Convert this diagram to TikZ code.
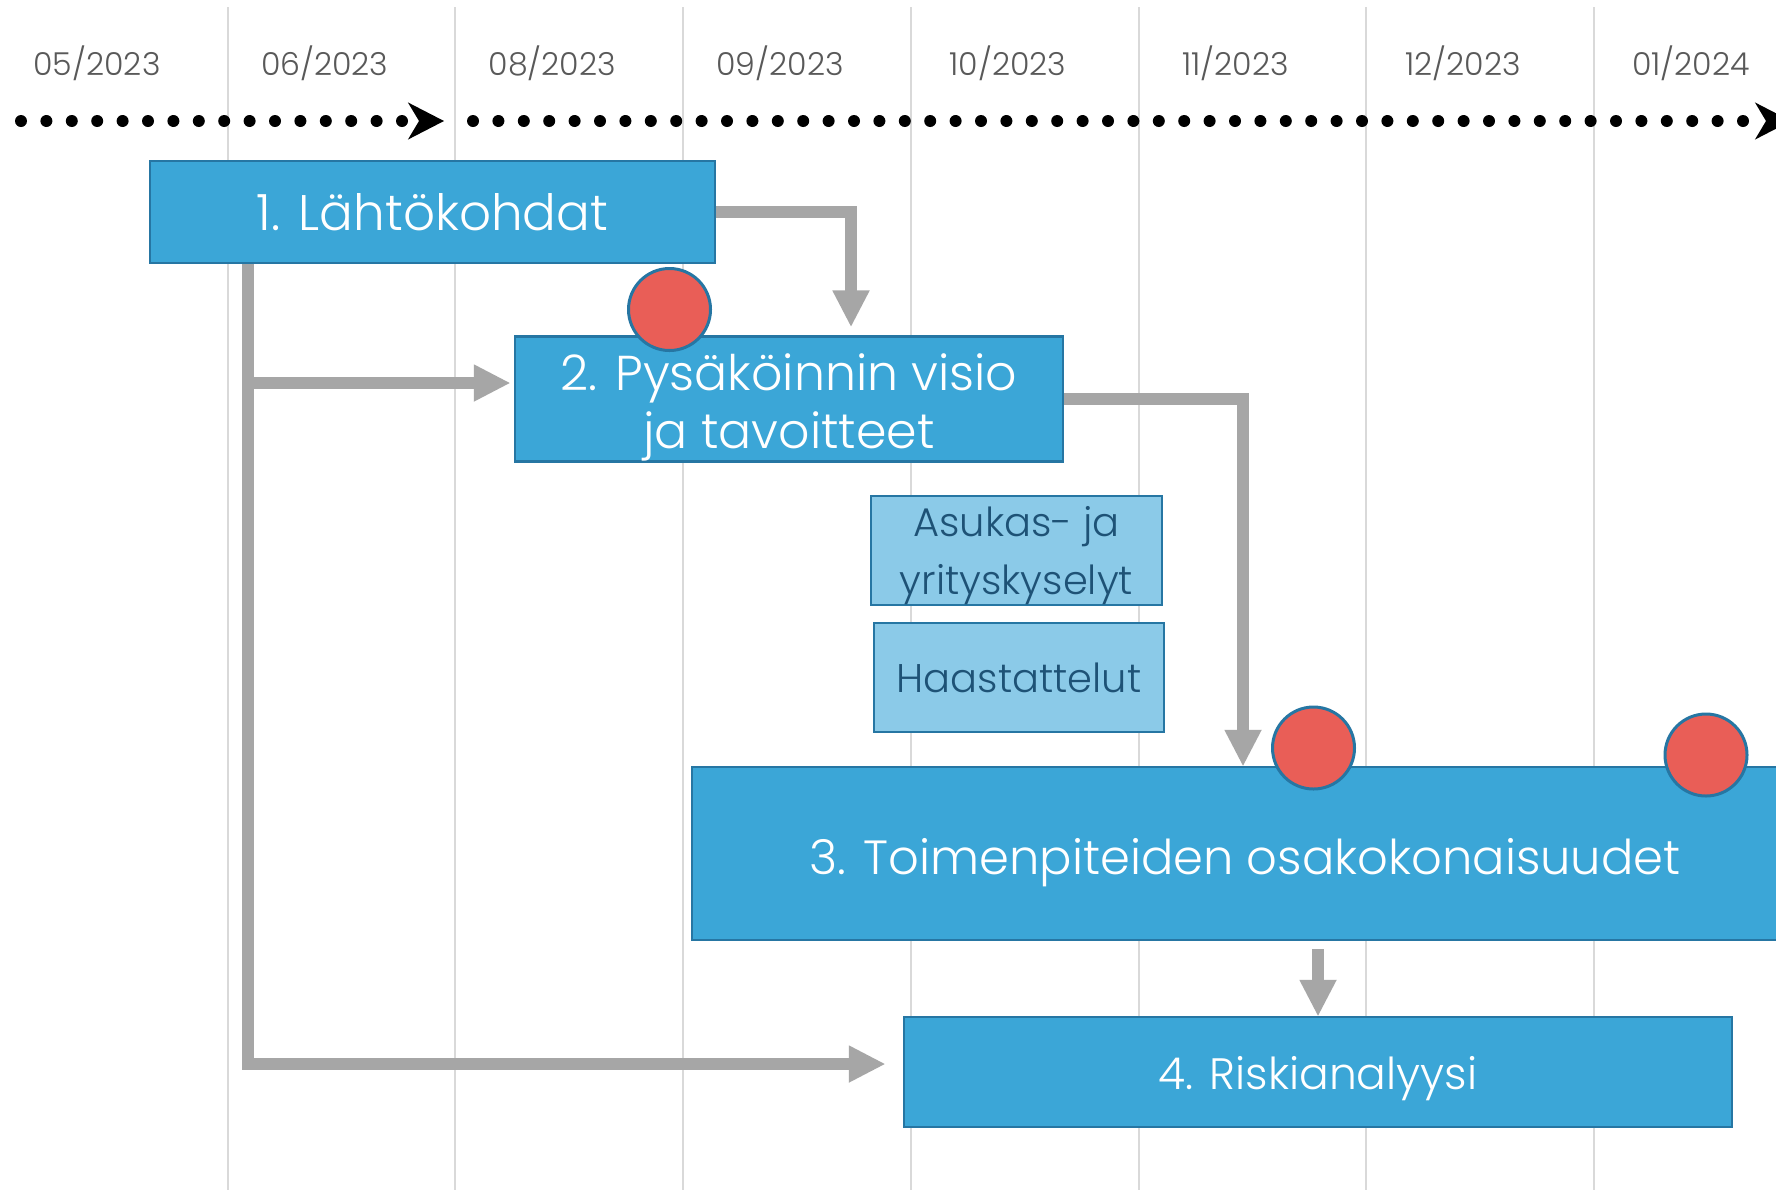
\documentclass[tikz,border=0pt]{standalone}
\usepackage{fontspec}
\setmainfont{Poppins Light}
\usetikzlibrary{arrows.meta, positioning, calc}
\definecolor{taskblue}{RGB}{59,166,215}
\definecolor{taskedge}{RGB}{38,118,163}
\definecolor{subblue}{RGB}{139,202,232}
\definecolor{subtext}{RGB}{30,82,118}
\definecolor{milered}{RGB}{233,94,87}
\definecolor{linkgray}{RGB}{166,166,166}
\definecolor{gridgray}{RGB}{217,217,217}
\definecolor{labelgray}{RGB}{89,89,89}
\newcommand{\taskstrut}[1]{\rule{0pt}{#1}}

\begin{document}
\begin{tikzpicture}[
        x=0.5pt, y=-0.5pt,
        task/.style={draw=taskedge, fill=taskblue, line width=1.25pt, text=white, align=center, inner sep=0pt, font=\fontsize{25}{29}\selectfont},
        subtask/.style={task, fill=subblue, text=subtext, font=\fontsize{20}{29}\selectfont},
        milestone/.style={circle, draw=taskedge, fill=milered, line width=1.5pt, minimum size=41pt, inner sep=0pt},
        link/.style={draw=linkgray, line width=6pt, -{Triangle[width=18.5pt, length=18pt, line width=1pt]}},
        timeline/.style={line width=6pt, line cap=round, dash pattern=on 0pt off 12.7pt, -{Stealth[length=18pt, width=18.5pt, inset=5.5pt, line width=1pt]}},
        month/.style={text=labelgray, font=\fontsize{15.8}{18}\selectfont}
    ]
        \clip (0,0) rectangle (1776,1190);
        \fill[white] (0,0) rectangle (1776,1190);

        % Month grid
        \foreach \i in {1,...,7}
            \draw[gridgray, line width=1pt] (\i*227.7,7) -- (\i*227.7,1190);

        % Month labels
        \foreach \m [count=\i from 0] in {05/2023, 06/2023, 08/2023, 09/2023, 10/2023, 11/2023, 12/2023, 01/2024}
            \node[month] (m\i) at (97+\i*227.7, 63) {\m};

        % Timeline
        \coordinate (t0) at (21,121);
        \coordinate (t1) at (444,121);
        \coordinate (t2) at (473,121);
        \coordinate (t3) at (1791,121);
        \draw[timeline] (t0) -- (t1);
        \draw[timeline] (t2) -- (t3);

        % Tasks
        \node[task, minimum width=282.5pt, minimum height=51pt] (lahto) at (432.5,212) {1. Lähtökohdat};
        \node[task, font=\fontsize{24.5}{29}\selectfont, minimum width=274pt, minimum height=62pt] (visio) at (789,399) {\taskstrut{27pt}2. Pysäköinnin visio\\ja tavoitteet};
        \node[subtask, minimum width=145.5pt, minimum height=54.5pt] (kysely) at (1016.5,550.5) {\taskstrut{20.5pt}Asukas- ja\\yrityskyselyt};
        \node[subtask, minimum width=145pt, minimum height=54.5pt] (haast) at (1019,677.5) {Haastattelut};
        \node[task, font=\fontsize{24}{29}\selectfont, minimum width=553pt, minimum height=86.5pt] (toimen) at (1245,853.5) {\taskstrut{27pt}3. Toimenpiteiden osakokonaisuudet};
        \node[task, font=\fontsize{22}{29}\selectfont, minimum width=414pt, minimum height=55pt] (riski) at (1318,1072) {\taskstrut{23.3pt}4. Riskianalyysi};

        % Links
        \coordinate (spine) at ([xshift=-92.25pt]lahto.south);
        \coordinate (visioin) at ([xshift=-2pt, yshift=8pt]visio.west);
        \coordinate (toimenout) at ([yshift=-4pt]toimen.south);
        \draw[link] (lahto.east) -| ([xshift=31pt, yshift=4.5pt]visio.north);
        \draw[link] (spine) |- ([xshift=-9pt, yshift=4pt]riski.west);
        \draw[link] (spine |- visioin) -- (visioin);
        \draw[link] (visio.east) -| ([xshift=-1pt]toimen.north);
        \draw[link] (toimenout -| riski.north) -- (riski.north);

        % Milestones
        \node[milestone] (ms1) at (669.5,309.5) {};
        \node[milestone] (ms2) at (1313.5,748) {};
        \node[milestone] (ms3) at (1706,755) {};
    \end{tikzpicture}
\end{document}
